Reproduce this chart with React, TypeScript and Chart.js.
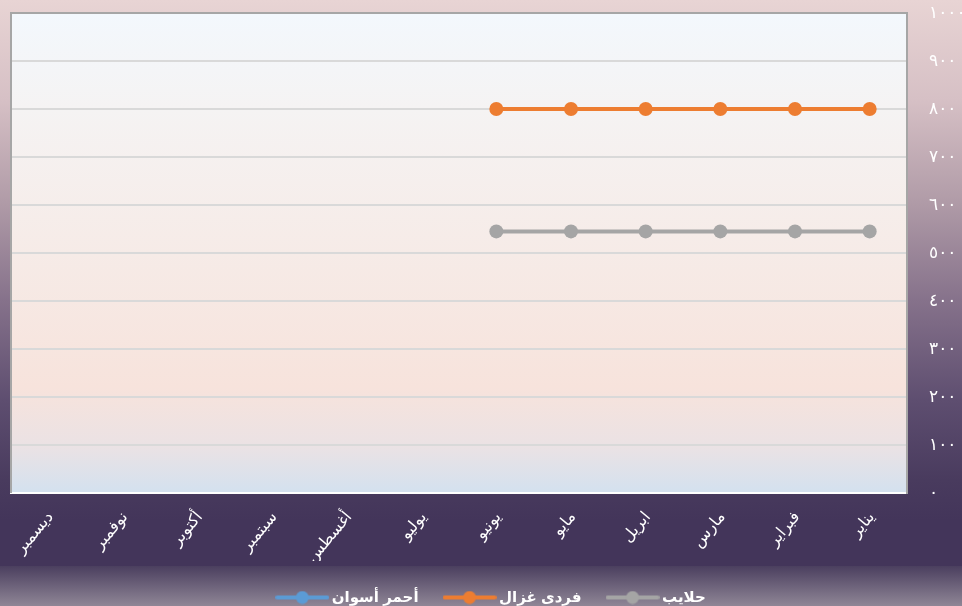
import { useEffect, useRef } from 'react';
import { Chart, registerables } from 'chart.js';

Chart.register(...registerables);

const months = ['يناير', 'فبراير', 'مارس', 'ابريل', 'مايو', 'يونيو', 'يوليو', 'أغسطس', 'سبتمبر', 'أكتوبر', 'نوفمبر', 'ديسمبر'];
const ahmarAswan = [null, null, null, null, null, null, null, null, null, null, null, null];
const fardyGhazal = [800, 800, 800, 800, 800, 800, null, null, null, null, null, null];
const halaib = [545, 545, 545, 545, 545, 545, null, null, null, null, null, null];
const seriesNames = ['أحمر أسوان', 'فردى غزال', 'حلايب'];
const seriesColors = ['#5b9bd5', '#ed7d31', '#a5a5a5'];
const yTickLabels = ['٠', '١٠٠', '٢٠٠', '٣٠٠', '٤٠٠', '٥٠٠', '٦٠٠', '٧٠٠', '٨٠٠', '٩٠٠', '١٠٠٠'];

const FONT = 'Arial, "DejaVu Sans", sans-serif';

function makeMarker(color: string): HTMLCanvasElement {
  const c = document.createElement('canvas');
  c.width = 54;
  c.height = 14;
  const ctx = c.getContext('2d')!;
  ctx.strokeStyle = color;
  ctx.lineWidth = 4;
  ctx.lineCap = 'round';
  ctx.beginPath();
  ctx.moveTo(2, 7);
  ctx.lineTo(52, 7);
  ctx.stroke();
  ctx.fillStyle = color;
  ctx.beginPath();
  ctx.arc(27, 7, 6.5, 0, Math.PI * 2);
  ctx.fill();
  return c;
}

const plotDecor = {
  id: 'plotDecor',
  beforeDraw(chart: any) {
    const { ctx, chartArea } = chart;
    const { left, top, right, bottom } = chartArea;
    const g = ctx.createLinearGradient(0, top, 0, bottom);
    g.addColorStop(0, '#f3f8fd');
    g.addColorStop(0.2, '#f5f3f3');
    g.addColorStop(0.5, '#f6ebe7');
    g.addColorStop(0.78, '#f7e3dc');
    g.addColorStop(0.9, '#ebe2e4');
    g.addColorStop(1, '#d3e1ef');
    ctx.save();
    ctx.fillStyle = g;
    ctx.fillRect(left, top, right - left, bottom - top);
    ctx.restore();
  },
  afterDraw(chart: any) {
    const { ctx, chartArea } = chart;
    const { left, top, right, bottom } = chartArea;
    ctx.save();
    ctx.strokeStyle = '#a6a6a6';
    ctx.lineWidth = 2;
    ctx.beginPath();
    ctx.moveTo(left, bottom);
    ctx.lineTo(left, top);
    ctx.lineTo(right, top);
    ctx.stroke();
    ctx.restore();
  },
};

export default function App() {
  const ref = useRef<HTMLCanvasElement | null>(null);
  useEffect(() => {
    if (!ref.current) return;
    const data = [ahmarAswan, fardyGhazal, halaib];
    const chart = new Chart(ref.current, {
      type: 'line',
      data: {
        labels: months,
        datasets: data.map((d, i) => ({
          label: seriesNames[i],
          data: d,
          borderColor: seriesColors[i],
          backgroundColor: seriesColors[i],
          pointBackgroundColor: seriesColors[i],
          pointBorderWidth: 0,
          pointRadius: 7,
          borderWidth: 4,
          tension: 0,
          spanGaps: false,
        })),
      },
      options: {
        animation: false,
        responsive: true,
        maintainAspectRatio: false,
        layout: { padding: { left: 11, top: 13, right: 0, bottom: 0 } },
        plugins: {
          tooltip: { enabled: false },
          legend: {
            position: 'bottom',
            labels: {
              color: '#ffffff',
              font: { size: 15, weight: 'bold', family: FONT },
              usePointStyle: true,
              pointStyleWidth: 44,
              padding: 29,
              generateLabels(chart: any) {
                const items = Chart.defaults.plugins.legend.labels.generateLabels(chart);
                items.forEach((it: any, i: number) => {
                  it.pointStyle = makeMarker(seriesColors[i]);
                });
                return items;
              },
            },
          },
        },
        scales: {
          x: {
            reverse: true,
            offset: true,
            grid: { display: false, drawTicks: false },
            border: { color: '#ffffff', width: 2 },
            ticks: {
              color: '#ffffff',
              font: { size: 16, family: FONT },
              minRotation: 50,
              maxRotation: 50,
              autoSkip: false,
              labelOffset: 2,
              padding: 15,
            },
            afterFit(scale: any) {
              scale.height = 68;
            },
          },
          y: {
            position: 'right',
            min: 0,
            max: 1000,
            grid: { color: '#d9d9d9', lineWidth: 2, drawTicks: true, tickLength: 20, tickColor: 'rgba(0,0,0,0)' },
            border: { color: '#a6a6a6', width: 2 },
            ticks: {
              stepSize: 100,
              color: '#ffffff',
              font: { size: 17, family: FONT },
              padding: 2,
              callback: (v: any) => yTickLabels[Math.round(Number(v) / 100)],
            },
            afterFit(scale: any) {
              scale.width = 68;
            },
          },
        },
      },
      plugins: [plotDecor],
    });
    return () => chart.destroy();
  }, []);

  return (
    <div
      style={{
        position: 'fixed',
        left: 0,
        top: 0,
        width: 962,
        height: 606,
        overflow: 'hidden',
        background:
          'linear-gradient(to bottom, #e8d4d4 0px, #d6c0c5 100px, #b19ca8 200px, #86728b 300px, #5e4e70 400px, #493b5e 480px, #43355a 520px, #43355a 566px, #4b3f5f 566px, #8f8696 606px)',
      }}
    >
      <div style={{ position: 'relative', width: 975, height: 615 }}>
        <canvas ref={ref} />
      </div>
    </div>
  );
}
